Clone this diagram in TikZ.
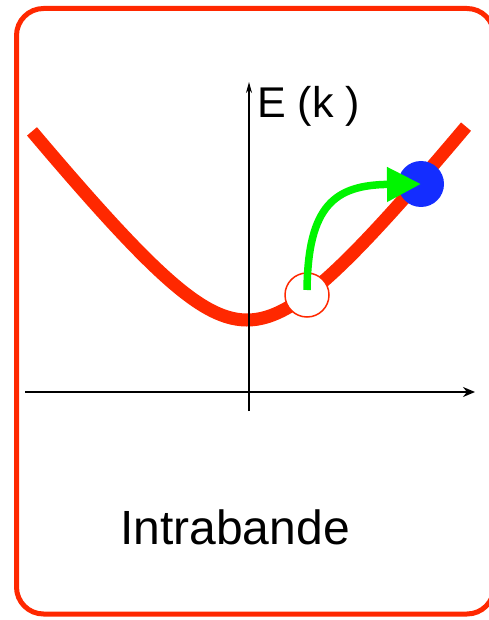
\documentclass[tikz,border=0pt]{standalone}
\usepackage{fontspec}
\setmainfont{Liberation Sans}
\usetikzlibrary{arrows.meta}
\definecolor{bandred}{RGB}{255,40,0}
\definecolor{eblue}{RGB}{20,45,255}
\definecolor{jumpgreen}{RGB}{0,245,0}

\begin{document}
\begin{tikzpicture}[x=1pt, y=-1pt,
  frame/.style={draw=bandred, line width=5pt, rounded corners=27pt},
  band/.style={draw=bandred, line width=13pt},
  axis/.style={draw=black, line width=1.5pt},
  hole/.style={circle, draw=bandred, line width=1.5pt, fill=white, minimum size=44pt, inner sep=0pt},
  elec/.style={circle, fill=eblue, minimum size=46pt, inner sep=0pt},
  jump/.style={draw=jumpgreen, line width=7.5pt, -{Triangle[length=34pt, width=33pt]}},
  lbl/.style={inner sep=0pt, font=\fontsize{43}{50}\selectfont}]
  \useasboundingbox (0,0) rectangle (488,620);
  \draw[frame] (16.5,8.5) rectangle (494,614);
  % bande parabolique
  \draw[band] plot[domain=-215:219, samples=90, smooth]
    ({247+\x}, {320-101*(sqrt(1+(\x/80)^2)-1)});
  % axes
  \coordinate (kmin) at (25,392);
  \coordinate (kmax) at (475,392);
  \coordinate (emin) at (249,411);
  \coordinate (emax) at (249,82);
  \draw[axis, -{Stealth[length=12pt, width=10pt]}] (kmin) -- (kmax);
  \draw[axis, -{Stealth[length=11pt, width=6pt]}] (emin) -- (emax);
  \node[lbl, anchor=base west] (ek) at (257,118) {E (k )};
  % transition
  \node[hole] (trou) at (307,295) {};
  \node[elec] (electron) at (421,184) {};
  \draw[jump] ([yshift=5pt]trou.center) .. controls (308,205) and (335,185) .. (electron.center);
  \node[lbl, anchor=base, font=\fontsize{48}{56}\selectfont] (titre) at (235,544) {Intrabande};
\end{tikzpicture}
\end{document}
